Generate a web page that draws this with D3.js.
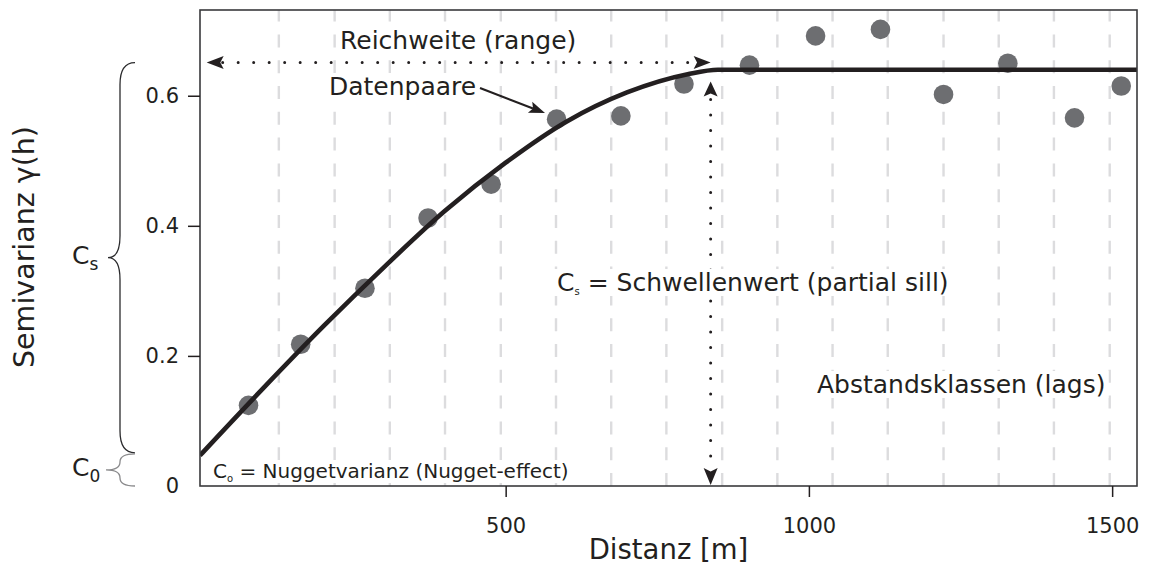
<!DOCTYPE html>
<html>
<head>
<meta charset="utf-8">
<script src="https://cdn.jsdelivr.net/npm/d3@7"></script>
<style>
  body { margin: 0; background: #fff; }
  svg { display: block; font-family: "DejaVu Sans", Verdana, sans-serif; }
  .axis text { fill: #231f20; font-size: 21px; }
  .axis line { stroke: #231f20; stroke-width: 1.5px; }
</style>
</head>
<body>
<svg id="chart" width="1152" height="566"></svg>
<script>
// empirical semivariogram (lag centre in m, semivariance)
var lagDist = [76, 162, 268, 372, 476, 584, 690, 794, 902, 1011, 1118, 1222, 1328, 1438, 1515];
var semivar = [0.124, 0.218, 0.304, 0.412, 0.464, 0.564, 0.569, 0.618, 0.647, 0.692, 0.702, 0.602, 0.650, 0.566, 0.615];

// fitted model
var modelDist  = [-4, 0, 100, 200, 300, 400, 500, 600, 700, 800, 850, 1541];
var modelGamma = [0.047, 0.051, 0.150, 0.246, 0.337, 0.423, 0.497, 0.560, 0.605, 0.633, 0.640, 0.640];

// lag class boundaries (dashed lines)
var lagBreaks = [126, 218, 309, 400, 492, 583, 674, 765, 857, 948, 1039, 1130, 1222, 1313, 1404, 1496];

var xTicks = [500, 1000, 1500];
var yTicks = [0, 0.2, 0.4, 0.6];

var nugget = 0.051, sill = 0.651, rangeDist = 838;

var svg = d3.select("#chart");
var pLeft = 200, pRight = 1137, pTop = 10, pBottom = 486;

var x = d3.scaleLinear().domain([-4, 1541]).range([pLeft, pRight]);
var y = d3.scaleLinear().domain([0, 0.7318]).range([pBottom, pTop]);

var ink = "#231f20";

// GRID
svg.append("g")
    .selectAll("line")
    .data(lagBreaks)
  .enter().append("line")
    .attr("x1", d => x(d)).attr("x2", d => x(d))
    .attr("y1", pBottom).attr("y2", pTop)
    .style("stroke", "#dcdcde")
    .style("stroke-width", "2.4px")
    .style("stroke-dasharray", "13,12.8");

// DOTTED RANGE / SILL ARROWS
var dots = svg.append("g");
dots.append("line")
    .attr("x1", x(7) + 16).attr("x2", x(rangeDist) - 16)
    .attr("y1", y(sill)).attr("y2", y(sill))
    .style("stroke", ink).style("stroke-width", "3px")
    .style("stroke-linecap", "round")
    .style("stroke-dasharray", "0,15.5");
dots.append("line")
    .attr("x1", x(rangeDist)).attr("x2", x(rangeDist))
    .attr("y1", y(0.622) + 18).attr("y2", pBottom - 20)
    .style("stroke", ink).style("stroke-width", "3px")
    .style("stroke-linecap", "round")
    .style("stroke-dasharray", "0,15.5");

function arrowHead(g, tx, ty, angle, len, half) {
  // tip at (tx,ty), pointing in direction angle (deg)
  g.append("path")
      .attr("d", "M0,0L" + (-len) + "," + (-half) + "L" + (-len * 0.8) + ",0L" + (-len) + "," + half + "Z")
      .attr("transform", "translate(" + tx + "," + ty + ") rotate(" + angle + ")")
      .style("fill", ink);
}
arrowHead(dots, x(7), y(sill), 180, 17, 6.5);
arrowHead(dots, x(rangeDist), y(sill), 0, 17, 6.5);
arrowHead(dots, x(rangeDist), y(0.622), -90, 15, 7);
arrowHead(dots, x(rangeDist), pBottom - 1, 90, 17, 7);

// LABELS WITH WHITE BACKING
var labels = svg.append("g");
function label(txt, px, py, size, sub) {
  var g = labels.append("g");
  var box = g.append("rect").style("fill", "#fff");
  var t = g.append("text")
      .attr("x", px).attr("y", py)
      .style("font-size", size + "px")
      .style("fill", ink);
  if (sub) {
    t.append("tspan").text("C");
    t.append("tspan").text(sub).style("font-size", "10px").attr("dy", 4);
    t.append("tspan").text(txt).attr("dy", -4);
  } else {
    t.text(txt);
  }
  var b = t.node().getBBox();
  box.attr("x", b.x - 3).attr("y", b.y + 1).attr("width", b.width + 6).attr("height", b.height - 2);
  return t;
}
label("Reichweite (range)", 340, 49, 25);
label("Datenpaare", 329, 95, 25);
label(" = Schwellenwert (partial sill)", 557, 291, 25, "s");
label("Abstandsklassen (lags)", 817, 393, 25);
label(" = Nuggetvarianz (Nugget-effect)", 213, 478, 20, "o");

// Datenpaare pointer
labels.append("line")
    .attr("x1", 480).attr("y1", 88)
    .attr("x2", 533).attr("y2", 108.5)
    .style("stroke", ink).style("stroke-width", "2.2px");
arrowHead(labels, 545, 113, Math.atan2(25, 65) * 180 / Math.PI, 16, 6);

// POINTS
svg.append("g")
    .selectAll("circle")
    .data(lagDist)
  .enter().append("circle")
    .attr("cx", d => x(d))
    .attr("cy", (d, i) => y(semivar[i]))
    .attr("r", 9.8)
    .style("fill", "#6d6e71");

// MODEL LINE
var model = modelDist.map((d, i) => [d, modelGamma[i]]);
svg.append("defs").append("clipPath").attr("id", "plotclip")
  .append("rect").attr("x", pLeft).attr("y", pTop).attr("width", pRight - pLeft).attr("height", pBottom - pTop);
svg.append("path")
    .datum(model)
    .attr("clip-path", "url(#plotclip)")
    .attr("d", d3.line().x(d => x(d[0])).y(d => y(d[1])).curve(d3.curveMonotoneX))
    .style("fill", "none")
    .style("stroke", ink)
    .style("stroke-width", "4.6px");

// FRAME
svg.append("rect")
    .attr("x", pLeft).attr("y", pTop)
    .attr("width", pRight - pLeft).attr("height", pBottom - pTop)
    .style("fill", "none")
    .style("stroke", "#3a3a3c")
    .style("stroke-width", "1.6px");

// AXES
var yAxis = svg.append("g")
    .attr("class", "axis")
    .attr("transform", "translate(" + pLeft + ",0)")
    .call(d3.axisLeft(y).tickValues(yTicks).tickSize(12).tickPadding(9)
      .tickFormat(d => d === 0 ? "0" : d3.format(".1f")(d)));
yAxis.select(".domain").remove();
yAxis.selectAll(".tick").filter(d => d === 0).select("line").remove();
yAxis.selectAll("text").style("font-family", "DejaVu Sans");

var xAxis = svg.append("g")
    .attr("class", "axis")
    .attr("transform", "translate(0," + pBottom + ")")
    .call(d3.axisBottom(x).tickValues(xTicks).tickSize(11).tickPadding(21).tickFormat(d3.format("d")));
xAxis.select(".domain").remove();
xAxis.selectAll("text").style("font-family", "DejaVu Sans");

// AXIS TITLES
svg.append("text")
    .attr("x", (pLeft + pRight) / 2)
    .attr("y", 559)
    .attr("text-anchor", "middle")
    .style("font-size", "27.5px")
    .style("fill", ink)
    .text("Distanz [m]");
svg.append("text")
    .attr("transform", "translate(34," + 247 + ") rotate(-90)")
    .attr("text-anchor", "middle")
    .style("font-size", "28.5px")
    .style("fill", ink)
    .text("Semivarianz \u03b3(h)");

// BRACES FOR C0 AND CS
function brace(y1, y2, r, tipX, color) {
  var sx = 120, ex = 135, ym = (y1 + y2) / 2;
  var p = "M" + ex + "," + y1 +
    "Q" + sx + "," + y1 + " " + sx + "," + (y1 + r) +
    "L" + sx + "," + (ym - r) +
    "Q" + sx + "," + ym + " " + tipX + "," + ym +
    "Q" + sx + "," + ym + " " + sx + "," + (ym + r) +
    "L" + sx + "," + (y2 - r) +
    "Q" + sx + "," + y2 + " " + ex + "," + y2;
  svg.append("path").attr("d", p)
      .style("fill", "none").style("stroke", color).style("stroke-width", "1.3px");
  return ym;
}
var csMid = brace(y(sill), y(nugget), 22, 108, "#2b2b2d");
var c0Mid = brace(y(nugget) + 1, y(0), 8, 106, "#8a8a8c");

function sideLabel(sub, py) {
  var t = svg.append("text")
      .attr("x", 72).attr("y", py)
      .style("font-size", "25px").style("fill", ink);
  t.append("tspan").text("C");
  t.append("tspan").text(sub).style("font-size", "17px").attr("dy", 6);
}
sideLabel("s", csMid + 6);
sideLabel("0", c0Mid + 6);
</script>
</body>
</html>
